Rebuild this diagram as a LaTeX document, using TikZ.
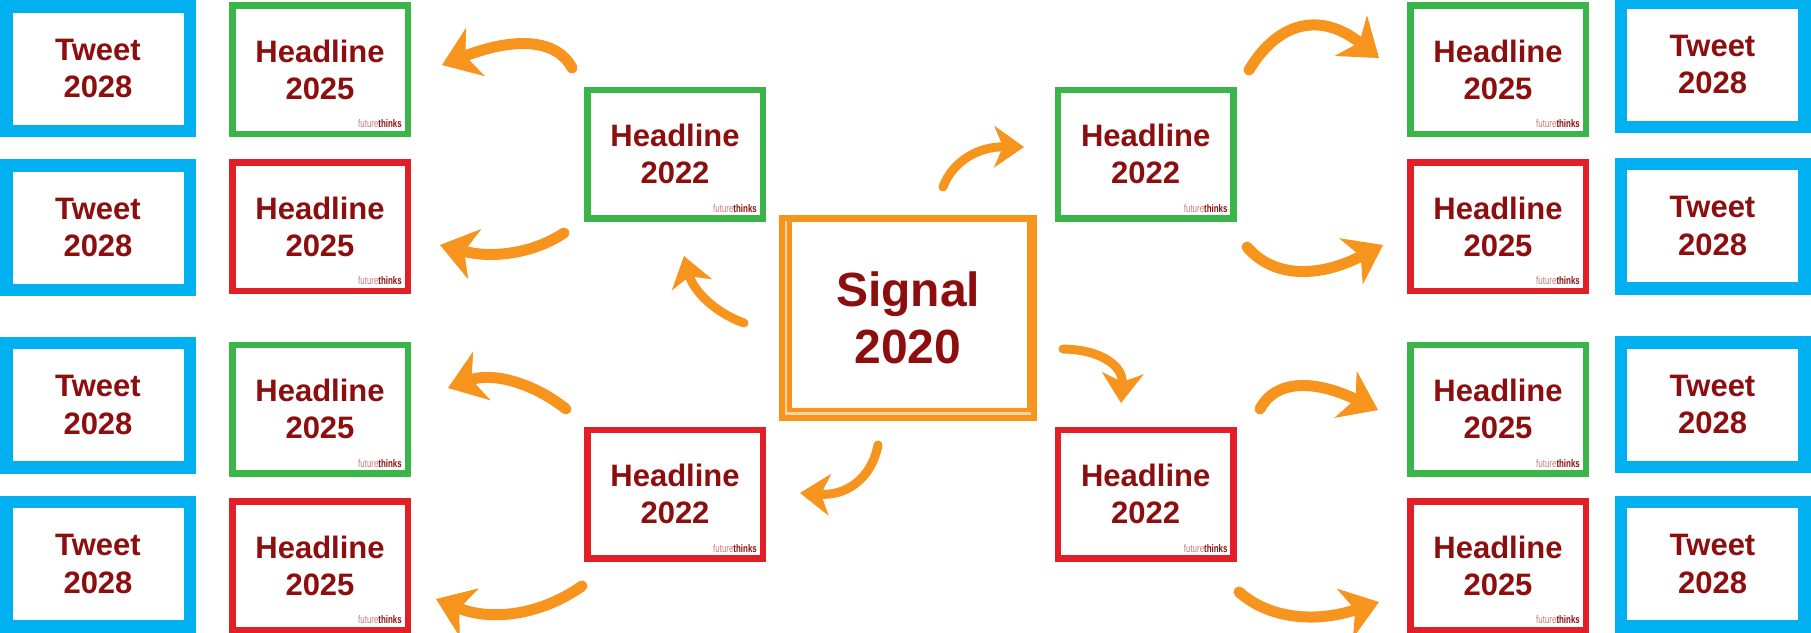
\documentclass[tikz,border=0pt]{standalone}
\usepackage{fontspec}
\setmainfont{Liberation Sans}
\usetikzlibrary{arrows.meta}

\definecolor{tweetblue}{RGB}{0,176,240}
\definecolor{goodgreen}{RGB}{57,181,74}
\definecolor{badred}{RGB}{226,31,38}
\definecolor{brushorange}{RGB}{247,148,30}
\definecolor{inkred}{RGB}{140,14,14}
\definecolor{logopink}{RGB}{196,120,128}

\newcommand{\futurelogo}{\scalebox{0.72}[1]{\textcolor{logopink}{future}\textcolor{inkred}{\bfseries thinks}}}

\begin{document}
\begin{tikzpicture}[x=1pt, y=-1pt,
  tweet/.style={draw=tweetblue, line width=12.5pt, minimum width=183.5pt, minimum height=124.5pt,
    align=center, text=inkred, font=\bfseries\fontsize{31}{37.5}\selectfont},
  headline/.style={line width=6.5pt, minimum width=175.5pt, minimum height=128.5pt,
    align=center, text=inkred, font=\bfseries\fontsize{31}{37}\selectfont},
  good/.style={headline, draw=goodgreen},
  bad/.style={headline, draw=badred},
  signal/.style={minimum width=258pt, minimum height=206pt, align=center, text=inkred,
    font=\bfseries\fontsize{48}{57}\selectfont},
  logo/.style={anchor=south east, font=\fontsize{11}{11}\selectfont},
  brush/.style={draw=brushorange, line width=11pt, line cap=round,
    -{Stealth[length=36pt, width=52pt, inset=11pt, line width=1pt]}},
  small brush/.style={draw=brushorange, line width=9pt, line cap=round,
    -{Stealth[length=30pt, width=42pt, inset=9pt, line width=1pt]}}]
\tikzstyle{every node}+=[inner sep=0pt]
\useasboundingbox (0,0) rectangle (1811,632);
% tweets
\node[tweet] (tl1) at (98,68.5) {Tweet\\2028};
\node[tweet] (tl2) at (98,227.5) {Tweet\\2028};
\node[tweet] (tl3) at (98,405) {Tweet\\2028};
\node[tweet] (tl4) at (98,564) {Tweet\\2028};
\node[tweet] (tr1) at (1712.5,64.5) {Tweet\\2028};
\node[tweet] (tr2) at (1712.5,226) {Tweet\\2028};
\node[tweet] (tr3) at (1712.5,404.5) {Tweet\\2028};
\node[tweet] (tr4) at (1712.5,564) {Tweet\\2028};
% headlines 2025
\node[good] (hl1) at (320,69.5) {Headline\\2025};
\node[bad] (hl2) at (320,226.5) {Headline\\2025};
\node[good] (hl3) at (320,409) {Headline\\2025};
\node[bad] (hl4) at (320,565.5) {Headline\\2025};
\node[good] (hr1) at (1498,69.5) {Headline\\2025};
\node[bad] (hr2) at (1498,226.5) {Headline\\2025};
\node[good] (hr3) at (1498,409) {Headline\\2025};
\node[bad] (hr4) at (1498,565.5) {Headline\\2025};
% headlines 2022
\node[good] (ml1) at (675,154) {Headline\\2022};
\node[bad] (ml2) at (675,494) {Headline\\2022};
\node[good] (mr1) at (1145.7,154) {Headline\\2022};
\node[bad] (mr2) at (1145.7,494) {Headline\\2022};
\foreach \h in {hl1,hl2,hl3,hl4,hr1,hr2,hr3,hr4,ml1,ml2,mr1,mr2}
  \node[logo] (\h-logo) at ([shift={(-9,-9)}]\h.south east) {\futurelogo};
% signal
\node[signal] (sig) at (908,318) {Signal\\2020};
\fill[brushorange!40, even odd rule] (sig.north west) rectangle (sig.south east)
  ([shift={(12.75,6.75)}]sig.north west) rectangle ([shift={(-9.75,-13.25)}]sig.south east);
\draw[brushorange, line width=6pt] ([shift={(3,3)}]sig.north west) rectangle ([shift={(-3,-3)}]sig.south east);
\draw[brushorange, line width=4.5pt] ([shift={(10.5,4.5)}]sig.north west) rectangle ([shift={(-7.5,-11)}]sig.south east);
% arrow ends
\coordinate (a1s) at (572,68);   \coordinate (a1e) at (442,65);
\coordinate (a2s) at (564,233);  \coordinate (a2e) at (440,245);
\coordinate (a3s) at (566,409);  \coordinate (a3e) at (448,388);
\coordinate (a4s) at (582,586);  \coordinate (a4e) at (436,599);
\coordinate (a5s) at (1249,70);  \coordinate (a5e) at (1379,58);
\coordinate (a6s) at (1247,247); \coordinate (a6e) at (1383,245);
\coordinate (a7s) at (1260,409); \coordinate (a7e) at (1378,410);
\coordinate (a8s) at (1239,592); \coordinate (a8e) at (1379,602);
\coordinate (a9s) at (744,323);  \coordinate (a9e) at (684,256);
\coordinate (a10s) at (943,187); \coordinate (a10e) at (1024,147);
\coordinate (a11s) at (1063,349); \coordinate (a11e) at (1121,403);
\coordinate (a12s) at (878,445); \coordinate (a12e) at (800,493);
% arrows
\draw[brush] (a1s) .. controls (556.7,38.3) and (513.3,37.3) .. (a1e);
\draw[brush] (a2s) .. controls (532,254.3) and (490.7,258.3) .. (a2e);
\draw[brush] (a3s) .. controls (529.3,380) and (490,373) .. (a3e);
\draw[brush] (a4s) .. controls (538.7,616.3) and (490,620.7) .. (a4e);
\draw[brush] (a5s) .. controls (1280.3,18) and (1323.7,14) .. (a5e);
\draw[brush] (a6s) .. controls (1273.7,278.3) and (1319,277.7) .. (a6e);
\draw[brush] (a7s) .. controls (1275.3,379.3) and (1314.7,379.7) .. (a7e);
\draw[brush] (a8s) .. controls (1269.7,619.3) and (1316.3,622.7) .. (a8e);
\draw[small brush] (a9s) .. controls (713.3,312) and (693.3,289.7) .. (a9e);
\draw[small brush] (a10s) .. controls (953,160) and (980,146.6) .. (a10e);
\draw[small brush] (a11s) .. controls (1103.7,349.7) and (1123,367.7) .. (a11e);
\draw[small brush] (a12s) .. controls (871.3,479.7) and (845.3,495.7) .. (a12e);
\end{tikzpicture}
\end{document}
